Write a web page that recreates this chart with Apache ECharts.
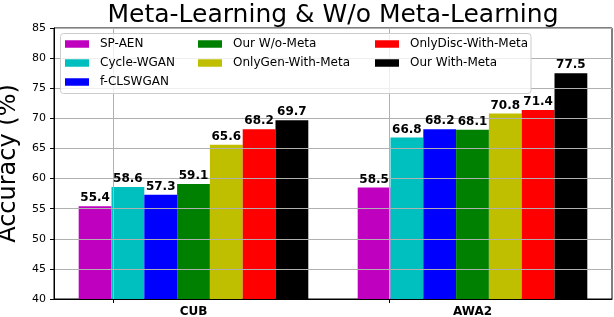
<!DOCTYPE html>
<html>
<head>
<meta charset="utf-8">
<script src="https://cdn.jsdelivr.net/npm/echarts@6/dist/echarts.min.js"></script>
<style>html,body{margin:0;padding:0;background:#fff}#c{width:614px;height:317px}</style>
</head>
<body>
<div id="c"></div>
<script>
const categories = ['CUB', 'AWA2'];
const seriesNames = ['SP-AEN', 'Cycle-WGAN', 'f-CLSWGAN', 'Our W/o-Meta', 'OnlyGen-With-Meta', 'OnlyDisc-With-Meta', 'Our With-Meta'];
const spAen = [55.4, 58.5];
const cycleWgan = [58.6, 66.8];
const fClswgan = [57.3, 68.2];
const ourWoMeta = [59.1, 68.1];
const onlyGenWithMeta = [65.6, 70.8];
const onlyDiscWithMeta = [68.2, 71.4];
const ourWithMeta = [69.7, 77.5];
const yTicks = { min: 40, max: 85, interval: 5 };
const xGridTicks = [0, 1];

const seriesValues = [spAen, cycleWgan, fClswgan, ourWoMeta, onlyGenWithMeta, onlyDiscWithMeta, ourWithMeta];
const colors = ['#bf00bf', '#00bfbf', '#0000ff', '#008000', '#bfbf00', '#ff0000', '#000000'];
const FONT = 'DejaVu Sans';

const chart = echarts.init(document.getElementById('c'), null, { renderer: 'canvas' });

const legendCommon = {
  orient: 'vertical', top: 38, padding: 0, itemWidth: 24, itemHeight: 7.5, itemGap: 7,
  icon: 'rect', z: 5,
  textStyle: { fontFamily: FONT, fontSize: 12, color: '#000', padding: [0, 0, 0, 6] }
};

const barLayout = { barGap: '0%', barCategoryGap: '17.7%' };
const labelStyle = {
  show: true, position: 'top', distance: 2,
  fontFamily: FONT, fontSize: 12, fontWeight: 'bold', color: '#000',
  formatter: p => p.value.toFixed(1)
};

const barSeries = seriesNames.map((name, i) => Object.assign({
  name: name, type: 'bar', xAxisIndex: 0, data: seriesValues[i], z: 2,
  itemStyle: { color: colors[i] },
  label: { show: false }
}, barLayout));

// label-only copies drawn above the grid lines (as in the reference)
const labelSeries = seriesNames.map((name, i) => Object.assign({
  name: name + ' (label)', type: 'bar', xAxisIndex: 2, data: seriesValues[i], z: 4,
  itemStyle: { color: 'rgba(0,0,0,0)' },
  label: labelStyle, silent: true
}, barLayout));

chart.setOption({
  animation: false,
  backgroundColor: '#fff',
  textStyle: { fontFamily: FONT },
  title: {
    text: 'Meta-Learning & W/o Meta-Learning', left: 333, textAlign: 'center', top: 3, padding: 0,
    textStyle: { fontFamily: FONT, fontSize: 25, fontWeight: 'normal', color: '#000' }
  },
  grid: { left: 54, right: 2, top: 28, bottom: 18, show: true, borderColor: '#000', borderWidth: 1,
          backgroundColor: 'transparent', outerBoundsMode: 'none', containLabel: false },
  legend: [
    Object.assign({ left: 65, data: seriesNames.slice(0, 3) }, legendCommon),
    Object.assign({ left: 198, data: seriesNames.slice(3, 5) }, legendCommon),
    Object.assign({ left: 375, data: seriesNames.slice(5, 7) }, legendCommon)
  ],
  graphic: [{
    type: 'rect', z: 4,
    shape: { x: 60.5, y: 33.5, width: 470.5, height: 60, r: 3 },
    style: { fill: 'rgba(255,255,255,0.8)', stroke: '#cccccc', lineWidth: 1 }
  }],
  xAxis: [{
    type: 'category', data: categories, z: 3,
    axisLine: { show: true, onZero: false, lineStyle: { color: '#000', width: 1 } },
    axisTick: { show: false },
    axisLabel: { fontFamily: FONT, fontSize: 12, fontWeight: 'bold', color: '#000', margin: 7 },
    splitLine: { show: false }
  }, {
    type: 'value', position: 'bottom', min: -0.2148, max: 1.806, z: 3,
    axisLine: { show: false, onZero: false },
    axisTick: { show: true, customValues: xGridTicks, length: 4, lineStyle: { color: '#000' } },
    axisLabel: { show: false },
    splitLine: { show: true, lineStyle: { color: '#b0b0b0', width: 1 } }
  }, {
    type: 'category', data: categories, show: false, axisLine: { onZero: false }
  }],
  yAxis: {
    type: 'value', min: yTicks.min, max: yTicks.max, interval: yTicks.interval, z: 3,
    name: 'Accuracy (%)', nameLocation: 'middle', nameGap: 21,
    nameTextStyle: { fontFamily: FONT, fontSize: 24, color: '#000' },
    axisLine: { show: true, onZero: false, lineStyle: { color: '#000', width: 1 } },
    axisTick: { show: true, length: 4, lineStyle: { color: '#000' } },
    axisLabel: { fontFamily: FONT, fontSize: 11, color: '#000', margin: 8 },
    splitLine: { show: true, lineStyle: { color: '#b0b0b0', width: 1 } }
  },
  series: barSeries.concat(labelSeries)
});
</script>
</body>
</html>
